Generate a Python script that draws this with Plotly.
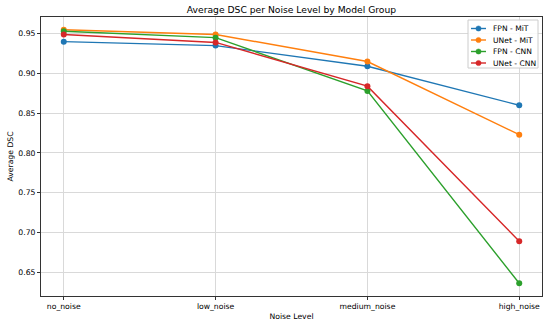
import plotly.graph_objects as go

noise_levels = ["no_noise", "low_noise", "medium_noise", "high_noise"]
fpn_mit = [0.940, 0.935, 0.909, 0.860]
unet_mit = [0.955, 0.949, 0.915, 0.823]
fpn_cnn = [0.953, 0.945, 0.878, 0.636]
unet_cnn = [0.949, 0.939, 0.884, 0.689]

series_names = ["FPN - MiT", "UNet - MiT", "FPN - CNN", "UNet - CNN"]
series_values = [fpn_mit, unet_mit, fpn_cnn, unet_cnn]
series_colors = ["#1f77b4", "#ff7f0e", "#2ca02c", "#d62728"]

W, H = 550, 325
L, T = 41, 17
PW, PH = 501, 279
R, B = W - L - PW, H - T - PH

def px_x(px):
    return (px - L) / PW

def px_y(py):
    return (T + PH - py) / PH

font = "DejaVu Sans"
fig = go.Figure()
for name, vals, color in zip(series_names, series_values, series_colors):
    fig.add_trace(go.Scatter(
        x=list(range(len(noise_levels))), y=vals, name=name,
        mode="lines+markers",
        line=dict(color=color, width=1.4),
        marker=dict(color=color, size=6),
    ))

# compact matplotlib-like legend box (upper right)
shapes = [dict(type="rect", xref="paper", yref="paper",
               x0=px_x(468), x1=px_x(538), y0=px_y(20), y1=px_y(68),
               fillcolor="rgba(255,255,255,0.85)", line=dict(color="#cccccc", width=1),
               layer="above")]
annotations = []
for i, (name, color) in enumerate(zip(series_names, series_colors)):
    yy = 28.5 + i * 11.5
    shapes.append(dict(type="line", xref="paper", yref="paper",
                       x0=px_x(471), x1=px_x(486), y0=px_y(yy), y1=px_y(yy),
                       line=dict(color=color, width=1.4), layer="above"))
    shapes.append(dict(type="circle", xref="paper", yref="paper",
                       xsizemode="pixel", ysizemode="pixel",
                       xanchor=px_x(478.5), yanchor=px_y(yy),
                       x0=-2.6, x1=2.6, y0=-2.6, y1=2.6,
                       fillcolor=color, line=dict(color=color, width=0.5), layer="above"))
    annotations.append(dict(text=name, xref="paper", yref="paper",
                            x=px_x(491), y=px_y(yy), xanchor="left", yanchor="middle",
                            showarrow=False, font=dict(size=7.6, family=font, color="black")))

fig.update_layout(
    width=W, height=H,
    margin=dict(l=L, r=R, t=T, b=B, autoexpand=False),
    paper_bgcolor="white", plot_bgcolor="white",
    font=dict(family=font, size=7.7, color="black"),
    title=dict(text="Average DSC per Noise Level by Model Group",
               x=(L + PW / 2) / W, xanchor="center", xref="container",
               y=1 - 10 / H, yanchor="middle", yref="container",
               font=dict(size=9.2)),
    showlegend=False,
    shapes=shapes,
    annotations=annotations,
)
fig.update_xaxes(
    tickmode="array", tickvals=list(range(len(noise_levels))), ticktext=noise_levels,
    range=[-0.15, 3.15], automargin=False,
    showgrid=True, gridcolor="#d9d9d9", gridwidth=1,
    showline=True, linecolor="#333333", linewidth=1, mirror=True,
    ticks="outside", ticklen=3, tickcolor="#333333",
    zeroline=False, tickfont=dict(size=7.7),
    title=dict(text="Noise Level", font=dict(size=7.7), standoff=3),
)
fig.update_yaxes(
    range=[0.620, 0.971], tickvals=[0.65, 0.70, 0.75, 0.80, 0.85, 0.90, 0.95],
    tickformat=".2f", automargin=False,
    showgrid=True, gridcolor="#d9d9d9", gridwidth=1,
    showline=True, linecolor="#333333", linewidth=1, mirror=True,
    ticks="outside", ticklen=3, tickcolor="#333333",
    zeroline=False, tickfont=dict(size=7.7),
    title=dict(text="Average DSC", font=dict(size=7.7), standoff=3),
)
fig.write_html("out.html", config={"displayModeBar": False},
               post_script="document.body.style.margin='0';")
